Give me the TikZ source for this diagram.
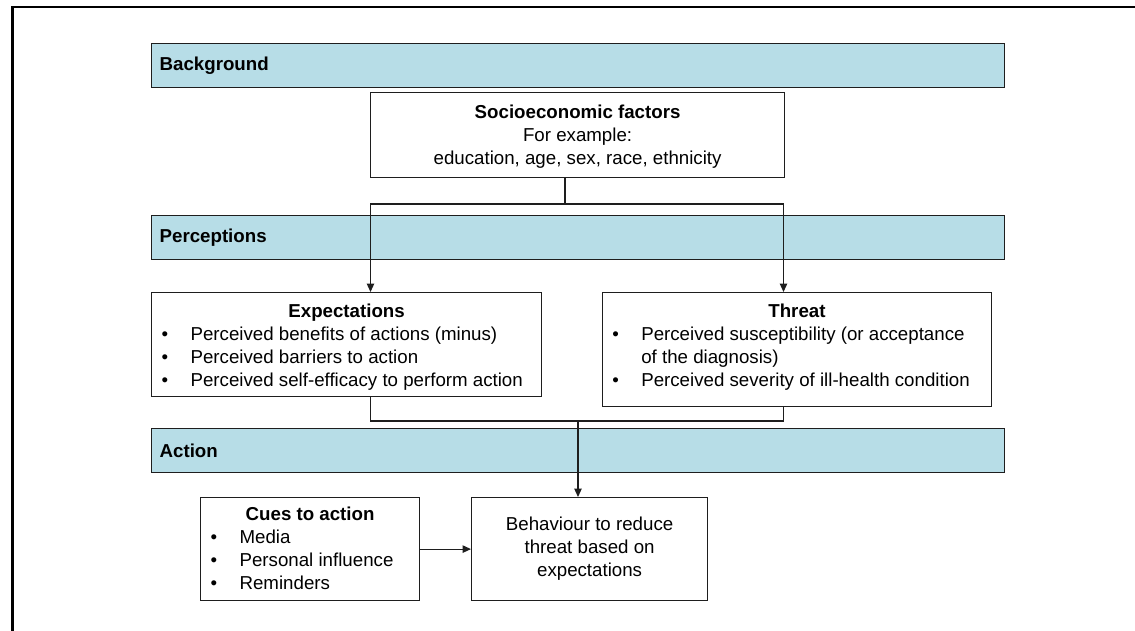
\documentclass[tikz,border=0pt]{standalone}
\usepackage{fontspec}
\setmainfont{Liberation Sans}
\usetikzlibrary{arrows.meta}

\definecolor{bandblue}{RGB}{183,221,231}
\definecolor{edgegray}{RGB}{30,30,30}

% bullet line with hanging indent
\newcommand\bulletline[1]{\par\noindent\hangindent=39pt\hangafter=1%
  \makebox[39pt][l]{\hspace{10pt}\textbullet}#1}
% fixed-size content block, top aligned
\newcommand\topblock[3]{\parbox[c][#1][t]{#2}{#3}}

\begin{document}
\begin{tikzpicture}[x=1pt,y=-1pt,
  every node/.style={font=\fontsize{18.7pt}{23pt}\selectfont},
  band/.style={draw=edgegray, line width=1.3pt, fill=bandblue, anchor=north west,
    minimum height=44pt, text width=837pt, inner xsep=8pt, inner ysep=0pt,
    align=left, font=\fontsize{18.7pt}{23pt}\selectfont\bfseries},
  infobox/.style={draw=edgegray, line width=1.2pt, fill=white, anchor=north west,
    inner sep=0pt},
  conn/.style={draw=edgegray, line width=1.2pt},
  arr/.style={conn, -{Triangle[length=8.5pt,width=7.5pt]}}
]
\useasboundingbox (0,0) rectangle (1135,631);

% outer frame (only its top and left edges fall on the page)
\draw[line width=2.5pt] (12.5,660) -- (12.5,7) -- (1160,7);

% stage bands
\node[band] (bg)   at (151,43)  {Background};
\node[band] (perc) at (151,215) {Perceptions};
\node[band] (act)  at (151,428) {Action};

% content boxes
\node[infobox] (socio) at (370,92) {\parbox[c][85pt][t]{414pt}{\centering
  \rule{0pt}{25.7pt}\textbf{Socioeconomic factors}\\
  For example:\\
  education, age, sex, race, ethnicity}};

\node[infobox] (expect) at (151,292) {\topblock{104pt}{390pt}{%
  {\centering\rule{0pt}{24.7pt}\textbf{Expectations}\par}\raggedright
  \bulletline{Perceived benefits of actions (minus)}
  \bulletline{Perceived barriers to action}
  \bulletline{Perceived self-efficacy to perform action}}};

\node[infobox] (threat) at (601.7,292) {\topblock{114pt}{389.3pt}{%
  {\centering\rule{0pt}{24.7pt}\textbf{Threat}\par}\raggedright
  \bulletline{Perceived susceptibility (or acceptance\newline of the diagnosis)}
  \bulletline{Perceived severity of ill-health condition}}};

\node[infobox] (cues) at (200,497) {\topblock{103pt}{219pt}{%
  {\centering\rule{0pt}{23.3pt}\textbf{Cues to action}\par}\raggedright
  \bulletline{Media}
  \bulletline{Personal influence}
  \bulletline{Reminders}}};

\node[infobox] (behav) at (471,497) {\parbox[c][103pt][c]{236pt}{\centering
  Behaviour to reduce\\threat based on\\expectations}};

% junction points
\coordinate (sj) at (565,204);
\coordinate (ml) at (370.5,421);
\coordinate (mr) at (783.5,421);
\coordinate (mj) at (578,421);

% connectors
\draw[conn] (socio.south -| sj) -- (sj);
\draw[arr] (sj) -| (expect.north -| ml);
\draw[arr] (sj) -| (threat.north -| mr);
\draw[conn] (expect.south -| ml) -- (ml) -- (mr) -- (threat.south -| mr);
\draw[arr] (mj) -- (behav.north -| mj);
\draw[arr] (cues.east) -- (behav.west |- cues.east);
\end{tikzpicture}
\end{document}
